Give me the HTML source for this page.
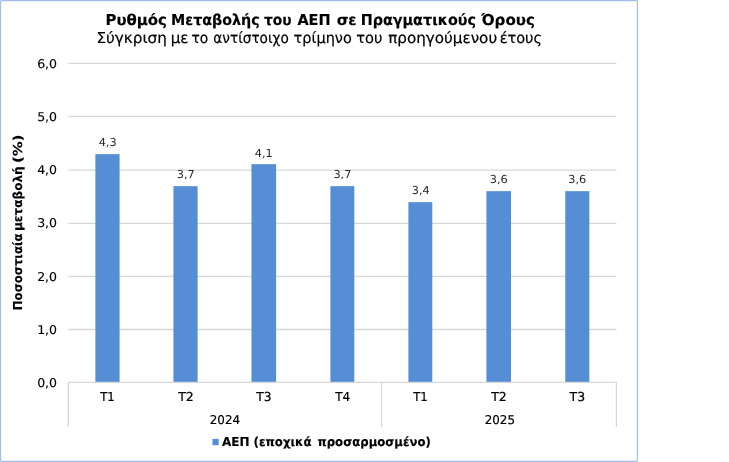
<!DOCTYPE html>
<html lang="el"><head><meta charset="utf-8"><title>Ρυθμός Μεταβολής του ΑΕΠ</title>
<style>html,body{margin:0;padding:0;background:#fff;}body{width:729px;height:462px;overflow:hidden;}svg{display:block;}text{font-family:"DejaVu Sans","Liberation Sans",sans-serif;fill:#000;stroke:#000;stroke-width:0.2px;text-rendering:geometricPrecision;}.b{font-weight:bold;stroke-width:0.15px;}.d{stroke:none;fill:#262626;}.v{stroke-width:0.12px;}</style></head><body>
<svg width="729" height="462" viewBox="0 0 729 462">
<rect x="0" y="0" width="729" height="462" fill="#fff"/>
<rect x="0.55" y="0.55" width="636.9" height="460.85" rx="1" fill="#fff" stroke="#a2bfe7" stroke-width="1.2"/>
<text class="v" x="37.15" y="387.00" font-size="12.1" textLength="19.95" lengthAdjust="spacingAndGlyphs">0,0</text>
<line x1="68.3" y1="329.50" x2="616.4" y2="329.50" stroke="#d8d8d8" stroke-width="1.3"/>
<text class="v" x="37.15" y="334.00" font-size="12.1" textLength="19.95" lengthAdjust="spacingAndGlyphs">1,0</text>
<line x1="68.3" y1="276.40" x2="616.4" y2="276.40" stroke="#d8d8d8" stroke-width="1.3"/>
<text class="v" x="37.15" y="281.00" font-size="12.1" textLength="19.95" lengthAdjust="spacingAndGlyphs">2,0</text>
<line x1="68.3" y1="223.30" x2="616.4" y2="223.30" stroke="#d8d8d8" stroke-width="1.3"/>
<text class="v" x="37.15" y="227.00" font-size="12.1" textLength="19.95" lengthAdjust="spacingAndGlyphs">3,0</text>
<line x1="68.3" y1="170.15" x2="616.4" y2="170.15" stroke="#d8d8d8" stroke-width="1.3"/>
<text class="v" x="37.15" y="174.00" font-size="12.1" textLength="19.95" lengthAdjust="spacingAndGlyphs">4,0</text>
<line x1="68.3" y1="116.45" x2="616.4" y2="116.45" stroke="#d8d8d8" stroke-width="1.3"/>
<text class="v" x="37.15" y="121.00" font-size="12.1" textLength="19.95" lengthAdjust="spacingAndGlyphs">5,0</text>
<line x1="68.3" y1="63.40" x2="616.4" y2="63.40" stroke="#d8d8d8" stroke-width="1.3"/>
<text class="v" x="37.15" y="68.00" font-size="12.1" textLength="19.95" lengthAdjust="spacingAndGlyphs">6,0</text>
<line x1="68.3" y1="382.4" x2="68.3" y2="427.0" stroke="#d8d8d8" stroke-width="1.3"/>
<line x1="381.5" y1="382.4" x2="381.5" y2="427.0" stroke="#d8d8d8" stroke-width="1.3"/>
<line x1="616.4" y1="382.4" x2="616.4" y2="427.0" stroke="#d8d8d8" stroke-width="1.3"/>
<rect x="95.38" y="154.15" width="24.2" height="228.25" fill="#558ed5"/>
<text x="98.70" y="146" font-size="11" textLength="17.97" lengthAdjust="spacingAndGlyphs" class="d">4,3</text>
<text y="401" font-size="12.35"><tspan x="100.16" textLength="14.60" lengthAdjust="spacingAndGlyphs">Τ1</tspan></text>
<rect x="173.42" y="186.15" width="24.2" height="196.25" fill="#558ed5"/>
<text x="176.74" y="178" font-size="11" textLength="17.97" lengthAdjust="spacingAndGlyphs" class="d">3,7</text>
<text y="401" font-size="12.35"><tspan x="178.21" textLength="15.62" lengthAdjust="spacingAndGlyphs">Τ2</tspan></text>
<rect x="251.45" y="164.15" width="24.65" height="218.25" fill="#558ed5"/>
<text x="254.77" y="157" font-size="11" textLength="17.97" lengthAdjust="spacingAndGlyphs" class="d">4,1</text>
<text y="401" font-size="12.35"><tspan x="256.24" textLength="15.35" lengthAdjust="spacingAndGlyphs">Τ3</tspan></text>
<rect x="330.40" y="186.15" width="23.9" height="196.25" fill="#558ed5"/>
<text x="333.42" y="178" font-size="11" textLength="17.97" lengthAdjust="spacingAndGlyphs" class="d">3,7</text>
<text y="401" font-size="12.35"><tspan x="335.19" textLength="15.04" lengthAdjust="spacingAndGlyphs">Τ4</tspan></text>
<rect x="408.40" y="202.15" width="23.9" height="180.25" fill="#558ed5"/>
<text x="411.72" y="194" font-size="11" textLength="17.97" lengthAdjust="spacingAndGlyphs" class="d">3,4</text>
<text y="401" font-size="12.35"><tspan x="413.18" textLength="14.60" lengthAdjust="spacingAndGlyphs">Τ1</tspan></text>
<rect x="486.40" y="191.15" width="24.6" height="191.25" fill="#558ed5"/>
<text x="489.72" y="183" font-size="11" textLength="17.97" lengthAdjust="spacingAndGlyphs" class="d">3,6</text>
<text y="401" font-size="12.35"><tspan x="491.19" textLength="15.62" lengthAdjust="spacingAndGlyphs">Τ2</tspan></text>
<rect x="565.25" y="191.15" width="24.1" height="191.25" fill="#558ed5"/>
<text x="568.27" y="183" font-size="11" textLength="17.97" lengthAdjust="spacingAndGlyphs" class="d">3,6</text>
<text y="401" font-size="12.35"><tspan x="569.54" textLength="15.56" lengthAdjust="spacingAndGlyphs">Τ3</tspan></text>
<line x1="68.3" y1="382.40" x2="616.4" y2="382.40" stroke="#d8d8d8" stroke-width="1.3"/>
<text x="209.75" y="424" font-size="12.1" textLength="30.3" lengthAdjust="spacingAndGlyphs">2024</text>
<text x="484.70" y="424" font-size="12.1" textLength="30.3" lengthAdjust="spacingAndGlyphs">2025</text>
<text class="b" y="25" font-size="15.0"><tspan x="105.43" textLength="61.47" lengthAdjust="spacingAndGlyphs">Ρυθμός</tspan> <tspan x="170.99" textLength="88.77" lengthAdjust="spacingAndGlyphs">Μεταβολής</tspan> <tspan x="263.91" textLength="27.62" lengthAdjust="spacingAndGlyphs">του</tspan> <tspan x="297.43" textLength="33.20" lengthAdjust="spacingAndGlyphs">ΑΕΠ</tspan> <tspan x="336.65" textLength="20.10" lengthAdjust="spacingAndGlyphs">σε</tspan> <tspan x="360.68" textLength="115.28" lengthAdjust="spacingAndGlyphs">Πραγματικούς</tspan> <tspan x="481.18" textLength="53.73" lengthAdjust="spacingAndGlyphs">Όρους</tspan></text>
<text y="43" font-size="15.0"><tspan x="96.41" textLength="70.49" lengthAdjust="spacingAndGlyphs">Σύγκριση</tspan> <tspan x="170.72" textLength="17.70" lengthAdjust="spacingAndGlyphs">με</tspan> <tspan x="191.53" textLength="16.73" lengthAdjust="spacingAndGlyphs">το</tspan> <tspan x="213.35" textLength="75.40" lengthAdjust="spacingAndGlyphs">αντίστοιχο</tspan> <tspan x="293.59" textLength="58.20" lengthAdjust="spacingAndGlyphs">τρίμηνο</tspan> <tspan x="356.29" textLength="26.16" lengthAdjust="spacingAndGlyphs">του</tspan> <tspan x="388.15" textLength="109.03" lengthAdjust="spacingAndGlyphs">προηγούμενου</tspan> <tspan x="499.66" textLength="42.38" lengthAdjust="spacingAndGlyphs">έτους</tspan></text>
<text class="b" transform="translate(21.6,0) rotate(-90)" y="0" font-size="12.35"><tspan x="-310.17" textLength="76.66" lengthAdjust="spacingAndGlyphs">Ποσοστιαία</tspan> <tspan x="-231.02" textLength="64.67" lengthAdjust="spacingAndGlyphs">μεταβολή</tspan> <tspan x="-163.08" textLength="28.56" lengthAdjust="spacingAndGlyphs">(%)</tspan></text>
<rect x="212.5" y="438.9" width="6.2" height="6.3" fill="#558ed5"/>
<text class="b" y="446" font-size="12.35"><tspan x="222.04" textLength="27.56" lengthAdjust="spacingAndGlyphs">ΑΕΠ</tspan> <tspan x="253.49" textLength="58.11" lengthAdjust="spacingAndGlyphs">(εποχικά</tspan> <tspan x="317.51" textLength="113.30" lengthAdjust="spacingAndGlyphs">προσαρμοσμένο)</tspan></text>
</svg></body></html>
